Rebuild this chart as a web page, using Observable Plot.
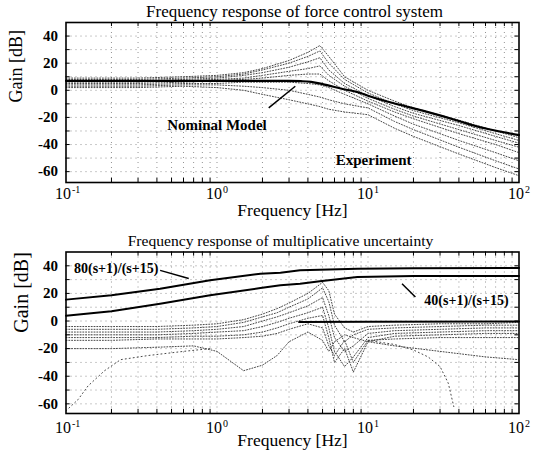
<!DOCTYPE html>
<html><head><meta charset="utf-8">
<script src="https://cdn.jsdelivr.net/npm/d3@7"></script>
<script src="https://cdn.jsdelivr.net/npm/@observablehq/plot@0.6"></script>
<style>
body{margin:0;background:#fff;}
#chart{width:534px;height:456px;}
#chart svg{display:block;}
</style></head><body><div id="chart"></div>
<script>
const FONT = "'Liberation Serif', 'Times New Roman', serif";

// ---------- axes / ticks ----------
const xTicks = [0.1, 1, 10, 100];
const xTickBase = ["10", "10", "10", "10"];
const xTickExp = ["-1", "0", "1", "2"];
const xMinor = [0.2,0.3,0.4,0.5,0.6,0.7,0.8,0.9,2,3,4,5,6,7,8,9,20,30,40,50,60,70,80,90];
const yTicks = [-60, -40, -20, 0, 20, 40];
const yMinor = [-60, -50, -40, -30, -20, -10, 0, 10, 20, 30, 40];

// ---------- top panel: force control system ----------
const topTitle = "Frequency response of force control system";
const nomF  = [0.1, 1, 2, 3, 3.6, 4.2, 5, 6.6, 8.9, 10, 16, 23, 41, 50, 100];
const nomDb = [7, 7, 7, 6.9, 6.7, 6.2, 4.6, 1.3, -2, -4, -10.5, -15, -23, -26, -33];

const expF = [0.1, 0.3, 0.6, 1, 1.5, 2, 3, 4, 4.8, 5.5, 7, 10, 15, 20, 40, 70, 100];
const exp1 = [9, 9, 10, 11, 13, 16, 22, 28, 33, 25, 10, 0, -8, -13, -22, -30, -35];
const exp2 = [8, 8, 9, 10, 12, 15, 20, 25, 29, 20, 8, -2, -10, -15, -24, -32, -37];
const exp3 = [7, 7, 8, 9, 11, 13, 17, 21, 24, 15, 5, -4, -12, -17, -26, -34, -39];
const exp4 = [6, 6, 7, 8, 9, 11, 14, 16, 18, 11, 3, -6, -14, -19, -29, -37, -42];
const exp5 = [5, 5, 6, 7, 8, 9, 11, 12, 12, 7, 0, -8, -16, -21, -32, -40, -46];
const exp6 = [4, 4, 5, 5, 6, 6, 6, 5, 4, 2, -3, -10, -19, -25, -37, -46, -52];
const exp7 = [3, 3, 4, 4, 3, 2, 0, -3, -5, -7, -10, -13, -23, -29, -42, -52, -58];
const exp8 = [2, 2, 3, 2, 0, -3, -7, -10, -12, -14, -16, -18, -28, -34, -47, -57, -63];

const nominalLabel = "Nominal Model";
const nominalLabelAt = [1.0, -26];
const nominalArrow = [2.2, -13, 3.3, 3];
const experimentLabel = "Experiment";
const experimentLabelAt = [10.9, -51.5];

// ---------- bottom panel: multiplicative uncertainty ----------
const botTitle = "Frequency response of multiplicative uncertainty";
const boundF  = [0.1, 0.2, 0.42, 0.9, 1.94, 2.63, 3.55, 4.8, 8.5, 20, 100];
const bound80 = [15.5, 18.6, 23.4, 29.5, 34.3, 35, 36.7, 37.2, 37.9, 38.2, 38.4];
const bound40 = [3.8, 7, 12.5, 18.6, 23.9, 25.9, 27, 28.8, 31.9, 32.6, 32.6];
const zeroF  = [3.5, 10, 100];
const zeroDb = [-0.8, -0.6, -0.3];

const uncF = [0.1, 0.2, 0.4, 0.7, 1, 1.5, 2, 2.5, 3, 4, 5, 5.5, 6, 7, 8, 10, 15, 30, 60, 100];
const unc1 = [-4, -4, -4, -3, -2, 1, 5, 9, 13, 20, 28, 22, 5, -5, -8, -4, -3, -2, -2, -1];
const unc2 = [-6, -6, -6, -5, -4, -1, 3, 6, 10, 16, 24, 14, -3, -15, -10, -6, -5, -4, -3, -3];
const unc3 = [-8, -8, -8, -7, -6, -4, 0, 3, 6, 11, 17, 4, -12, -22, -18, -9, -7, -6, -5, -5];
const unc4 = [-10, -10, -10, -9, -8, -7, -4, -1, 2, 6, 10, -5, -22, -33, -26, -12, -9, -8, -7, -7];
const unc5 = [-12, -12, -12, -11, -11, -10, -8, -5, -2, 2, 4, -12, -30, -20, -37, -15, -11, -10, -9, -9];
const unc6 = [-14, -14, -13, -13, -13, -12, -11, -9, -6, -2, -5, -18, -25, -14, -30, -14, -13, -12, -12, -12];
const unc7 = [-20, -20, -19, -18, -22, -36, -32, -25, -15, -8, -14, -22, -15, -10, -12, -15, -18, -22, -26, -28];
const notchF  = [0.1, 0.12, 0.14, 0.18, 0.23, 0.35, 0.6, 0.9];
const notchDb = [-65, -57, -47, -36, -28, -25, -22, -20];
const arcF  = [10, 15, 20, 25, 30, 34, 37];
const arcDb = [-14, -17, -21, -26, -33, -45, -62];

const label80 = "80(s+1)/(s+15)";
const label80At = [0.215, 38];
const arrow80 = [0.42, 36.7, 0.65, 30.8];
const label40 = "40(s+1)/(s+15)";
const label40At = [44.9, 14.5];
const arrow40 = [16.8, 27, 20.6, 17.4];

const xLabel = "Frequency [Hz]";
const yLabel = "Gain [dB]";

// ---------- helpers ----------
function tidy(fs, series) {
  const out = [];
  series.forEach((s, k) => s.forEach((v, i) => out.push({f: fs[i], db: v, id: k})));
  return out;
}
function pts(fs, vs) { return fs.map((f, i) => ({f, db: vs[i]})); }

function panel({height, mTop, mBottom, yDomain, title, titleSize, titleDx, titleDy, ylabDx, ylabSize, xlabDy, xtickDy, extra}) {
  const [y0, y1] = yDomain;
  const tickDb = 3;
  const tickRatio = 1.065;
  const dotted = {stroke: "#666", strokeWidth: 0.7, strokeDasharray: "1,4"};
  return Plot.plot({
    width: 534, height,
    marginLeft: 65.5, marginRight: 15.5, marginTop: mTop, marginBottom: mBottom,
    style: {fontFamily: FONT, background: "white", color: "black", overflow: "visible"},
    x: {type: "log", domain: [0.1, 100], axis: null},
    y: {domain: yDomain, axis: null},
    marks: [
      Plot.ruleX([...xMinor, 1, 10], {...dotted}),
      Plot.ruleY(yMinor, {...dotted}),
      ...extra,
      // inward ticks
      Plot.ruleX(xMinor, {x: d => d, y1: y0, y2: y0 + tickDb, stroke: "black", strokeWidth: 1}),
      Plot.ruleX(xMinor, {x: d => d, y1: y1 - tickDb, y2: y1, stroke: "black", strokeWidth: 1}),
      Plot.ruleY(yMinor, {y: d => d, x1: 0.1, x2: 0.1 * tickRatio, stroke: "black", strokeWidth: 1}),
      Plot.ruleY(yMinor, {y: d => d, x1: 100 / tickRatio, x2: 100, stroke: "black", strokeWidth: 1}),
      Plot.frame({stroke: "black", strokeWidth: 1.6}),
      Plot.axisY(yTicks, {tickSize: 0, tickPadding: 8, fontSize: 15, fontWeight: "bold", tickFormat: d => String(d), label: null}),
      Plot.text(xTicks, {x: d => d, text: (d, i) => xTickBase[i], frameAnchor: "bottom", dy: xtickDy, dx: -3, fontSize: 16}),
      Plot.text(xTicks, {x: d => d, text: (d, i) => xTickExp[i], frameAnchor: "bottom", dy: xtickDy - 6, dx: 6, textAnchor: "start", fontSize: 10}),
      Plot.text([xLabel], {text: d => d, frameAnchor: "bottom", dy: xlabDy, fontSize: 17.5}),
      Plot.text([yLabel], {text: d => d, frameAnchor: "left", dx: ylabDx, rotate: -90, fontSize: ylabSize}),
      Plot.text([title], {text: d => d, frameAnchor: "top", dy: titleDy, dx: titleDx, lineAnchor: "bottom", fontSize: titleSize})
    ]
  });
}

const expStyle = {x: "f", y: "db", z: "id", stroke: "#333", strokeWidth: 0.9, strokeDasharray: "1,1.8", clip: true};

const topPanel = panel({
  height: 230, mTop: 22, mBottom: 48, yDomain: [-68, 50],
  title: topTitle, titleSize: 17, titleDx: 2, titleDy: -6,
  ylabDx: -50, ylabSize: 18, xlabDy: 33, xtickDy: 16,
  extra: [
    Plot.line(tidy(expF, [exp1, exp2, exp3, exp4, exp5, exp6, exp7, exp8]), expStyle),
    Plot.line(pts(nomF, nomDb), {x: "f", y: "db", stroke: "black", strokeWidth: 2.2, curve: "monotone-x"}),
    Plot.link([nominalArrow], {x1: d => d[0], y1: d => d[1], x2: d => d[2], y2: d => d[3], stroke: "black", strokeWidth: 1.5}),
    Plot.text([nominalLabelAt], {x: d => d[0], y: d => d[1], text: () => nominalLabel, fontSize: 15, fontWeight: "bold"}),
    Plot.text([experimentLabelAt], {x: d => d[0], y: d => d[1], text: () => experimentLabel, fontSize: 15, fontWeight: "bold"})
  ]
});

const bottomPanel = panel({
  height: 226, mTop: 21.5, mBottom: 43, yDomain: [-67, 50],
  title: botTitle, titleSize: 15.6, titleDx: -12, titleDy: -6.5,
  ylabDx: -44, ylabSize: 20, xlabDy: 32, xtickDy: 19,
  extra: [
    Plot.line(tidy(uncF, [unc1, unc2, unc3, unc4, unc5, unc6, unc7]), expStyle),
    Plot.line(pts(notchF, notchDb), {...expStyle, z: null, strokeDasharray: "1,3"}),
    Plot.line(pts(arcF, arcDb), {...expStyle, z: null, strokeDasharray: "1,3"}),
    Plot.line(pts(zeroF, zeroDb), {x: "f", y: "db", stroke: "black", strokeWidth: 2}),
    Plot.line(pts(boundF, bound80), {x: "f", y: "db", stroke: "black", strokeWidth: 2}),
    Plot.line(pts(boundF, bound40), {x: "f", y: "db", stroke: "black", strokeWidth: 2}),
    Plot.link([arrow80, arrow40], {x1: d => d[0], y1: d => d[1], x2: d => d[2], y2: d => d[3], stroke: "black", strokeWidth: 1.5}),
    Plot.text([label80At], {x: d => d[0], y: d => d[1], text: () => label80, fontSize: 14, fontWeight: "bold"}),
    Plot.text([label40At], {x: d => d[0], y: d => d[1], text: () => label40, fontSize: 14, fontWeight: "bold"})
  ]
});

const root = document.getElementById("chart");
root.append(topPanel, bottomPanel);
</script></body></html>
